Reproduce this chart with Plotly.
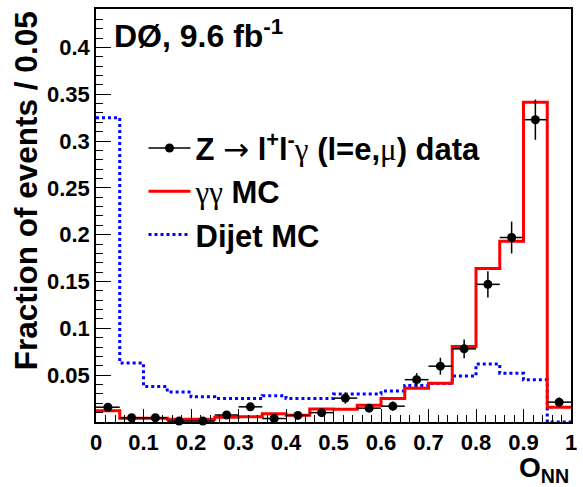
import plotly.graph_objects as go

bin_edges = [round(i * 0.05, 2) for i in range(21)]
bin_centers = [round(0.025 + i * 0.05, 3) for i in range(20)]

data_frac = [0.0158, 0.0045, 0.0045, 0.0010, 0.0010, 0.0075, 0.0162, 0.0037, 0.0070, 0.0100,
             0.0255, 0.0148, 0.0169, 0.0452, 0.0596, 0.0781, 0.1470, 0.1970, 0.3228, 0.0212]
data_err = [0.003, 0.002, 0.002, 0.001, 0.001, 0.003, 0.004, 0.002, 0.003, 0.003,
            0.006, 0.004, 0.005, 0.007, 0.009, 0.010, 0.014, 0.017, 0.0215, 0.005]
gg_mc = [0.0120, 0.0040, 0.0040, 0.0030, 0.0030, 0.0050, 0.0055, 0.0087, 0.0073, 0.0140,
         0.0135, 0.0180, 0.0251, 0.0360, 0.0415, 0.0806, 0.1638, 0.1930, 0.3413, 0.0158]
dijet_mc = [0.325, 0.063, 0.038, 0.032, 0.027, 0.025, 0.025, 0.028, 0.025, 0.025,
            0.030, 0.030, 0.033, 0.039, 0.041, 0.049, 0.062, 0.052, 0.045, 0.0]

yticks = [0.05, 0.1, 0.15, 0.2, 0.25, 0.3, 0.35, 0.4]
ytick_text = ["0.05", "0.1", "0.15", "0.2", "0.25", "0.3", "0.35", "0.4"]
xticks = [0, 0.1, 0.2, 0.3, 0.4, 0.5, 0.6, 0.7, 0.8, 0.9, 1.0]
xtick_text = ["0", "0.1", "0.2", "0.3", "0.4", "0.5", "0.6", "0.7", "0.8", "0.9", "1"]

FONT = "Liberation Sans, Arial, Helvetica, sans-serif"
SYM = "font-family:'Liberation Serif', 'DejaVu Serif', serif;font-weight:normal"

def step(vals):
    return bin_edges, list(vals) + [vals[-1]]

fig = go.Figure()

xs, ys = step(dijet_mc)
fig.add_trace(go.Scatter(x=xs, y=ys, mode="lines", line_shape="hv",
                         line=dict(color="#0000ff", width=3, dash="dot"),
                         showlegend=False))
xs, ys = step(gg_mc)
fig.add_trace(go.Scatter(x=xs, y=ys, mode="lines", line_shape="hv",
                         line=dict(color="#ff0000", width=3),
                         showlegend=False))
fig.add_trace(go.Scatter(x=bin_centers, y=data_frac, mode="markers",
                         marker=dict(color="black", size=9),
                         error_y=dict(type="data", array=data_err, color="black", thickness=1.5, width=0),
                         error_x=dict(type="constant", value=0.025, color="black", thickness=1.5, width=0),
                         showlegend=False, cliponaxis=False))

data_label = ("<b>Z <span style=\"font-family:'DejaVu Sans';font-weight:normal\">\u2192</span> "
              "l<sup>+</sup>l<sup>-</sup><span style=\"" + SYM + "\">\u03b3</span> "
              "(l=e,<span style=\"" + SYM + "\">\u03bc</span>) data</b>")
gg_label = "<span style=\"" + SYM + "\">\u03b3\u03b3</span><b> MC</b>"

fig.add_trace(go.Scatter(x=[None], y=[None], mode="lines+markers",
                         line=dict(color="black", width=1.5), marker=dict(color="black", size=9),
                         name=data_label, legendgroup="a"))
fig.add_trace(go.Scatter(x=[None], y=[None], mode="lines",
                         line=dict(color="#ff0000", width=3),
                         name=gg_label, legendgroup="b"))
fig.add_trace(go.Scatter(x=[None], y=[None], mode="lines",
                         line=dict(color="#0000ff", width=3, dash="dot"),
                         name="<b>Dijet MC</b>", legendgroup="c"))

fig.update_layout(
    width=583, height=487,
    margin=dict(l=96, r=6, t=9, b=65),
    paper_bgcolor="white", plot_bgcolor="white",
    font=dict(family=FONT, color="black"),
    legend=dict(x=0.1, y=0.728, xanchor="left", yanchor="top",
                font=dict(size=31, family=FONT, color="black"),
                bgcolor="rgba(0,0,0,0)", tracegroupgap=0, traceorder="grouped",
                itemwidth=42),
    xaxis=dict(range=[0, 1], tickvals=xticks, ticktext=xtick_text,
               ticks="inside", ticklen=13, tickwidth=1, tickcolor="black",
               showline=True, linecolor="black", linewidth=1.5, mirror=True,
               showgrid=False, zeroline=False,
               tickfont=dict(size=22, family=FONT, weight="bold"),
               minor=dict(dtick=0.02, ticks="inside", ticklen=7, tickcolor="black", showgrid=False)),
    yaxis=dict(range=[0, 0.441], tickvals=yticks, ticktext=ytick_text,
               ticks="inside", ticklen=15, tickwidth=1, tickcolor="black",
               showline=True, linecolor="black", linewidth=1.5, mirror=True,
               showgrid=False, zeroline=False,
               tickfont=dict(size=22, family=FONT, weight="bold"),
               minor=dict(dtick=0.01, ticks="inside", ticklen=7, tickcolor="black", showgrid=False)),
    annotations=[
        dict(text="<b>D\u00d8, 9.6 fb<sup>-1</sup></b>", xref="paper", yref="paper",
             x=0.033, y=0.993, xanchor="left", yanchor="top", showarrow=False,
             font=dict(size=32, family=FONT)),
        dict(text="<b>Fraction of events / 0.05</b>", xref="paper", yref="paper",
             x=-0.148, y=1.0, xanchor="center", yanchor="top", textangle=-90, showarrow=False,
             font=dict(size=31.5, family=FONT)),
        dict(text="<b>O<sub>NN</sub></b>", xref="paper", yref="paper",
             x=1.0, y=-0.068, xanchor="right", yanchor="top", showarrow=False,
             font=dict(size=28, family=FONT)),
    ],
)

fig.write_html("out.html", config={"displayModeBar": False},
               post_script="document.body.style.margin='0';document.body.style.overflow='hidden';")
